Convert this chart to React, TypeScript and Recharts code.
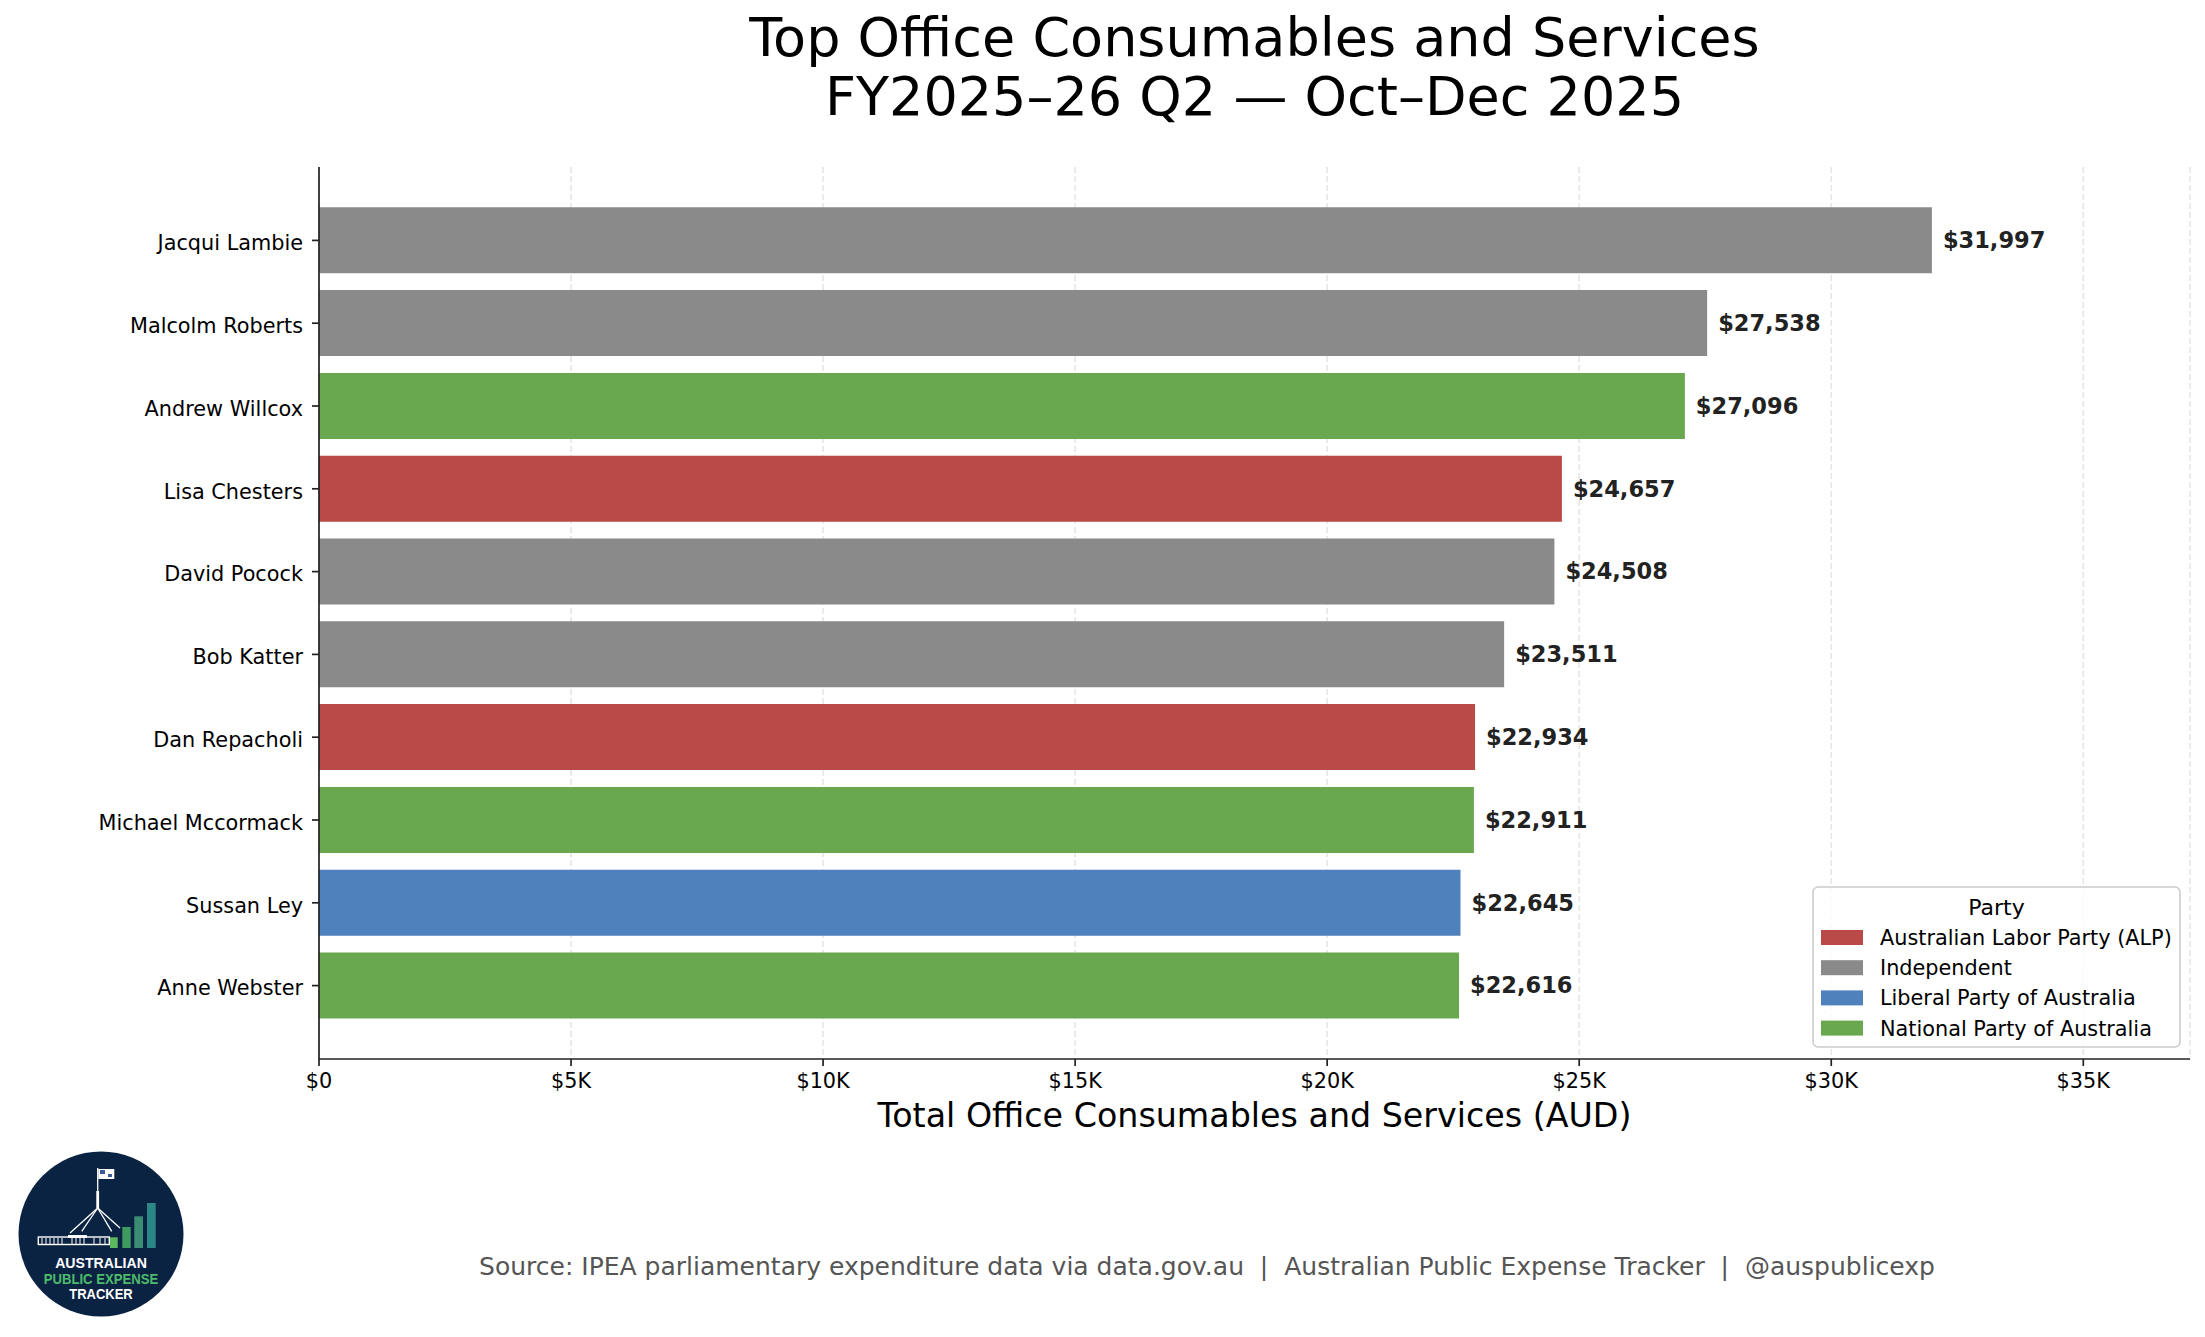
import React from "react";
import { BarChart, Bar, XAxis, YAxis, CartesianGrid, Cell, LabelList } from "recharts";

const names = [
  "Jacqui Lambie",
  "Malcolm Roberts",
  "Andrew Willcox",
  "Lisa Chesters",
  "David Pocock",
  "Bob Katter",
  "Dan Repacholi",
  "Michael Mccormack",
  "Sussan Ley",
  "Anne Webster",
];
const values = [31997, 27538, 27096, 24657, 24508, 23511, 22934, 22911, 22645, 22616];
const memberParties = [
  "Independent",
  "Independent",
  "National Party of Australia",
  "Australian Labor Party (ALP)",
  "Independent",
  "Independent",
  "Australian Labor Party (ALP)",
  "National Party of Australia",
  "Liberal Party of Australia",
  "National Party of Australia",
];
const legendParties = [
  "Australian Labor Party (ALP)",
  "Independent",
  "Liberal Party of Australia",
  "National Party of Australia",
];
const partyColors = ["#b94a48", "#8a8a8a", "#4f81bd", "#6aa84f"];
const xTicks = [0, 5000, 10000, 15000, 20000, 25000, 30000, 35000];
const xMax = 37117;

const titleLines = ["Top Office Consumables and Services", "FY2025\u201326 Q2 \u2014 Oct\u2013Dec 2025"];
const xLabel = "Total Office Consumables and Services (AUD)";
const sourceText =
  "Source: IPEA parliamentary expenditure data via data.gov.au  |  Australian Public Expense Tracker  |  @auspublicexp";

const data = names.map((n, i) => ({ name: n, value: values[i], party: memberParties[i] }));
const colorOf = (p: string) => partyColors[legendParties.indexOf(p)];

const FONT = "DejaVu Sans";

const fmtTick = (v: number) => (v === 0 ? "$0" : `$${v / 1000}K`);
const fmtVal = (v: number) => "$" + v.toLocaleString("en-US");

const ValueLabel = (props: any) => {
  const { x, y, width, height, value } = props;
  return (
    <text
      x={Number(x) + Number(width) + 11}
      y={Number(y) + Number(height) / 2}
      dy="0.35em"
      fontFamily={FONT}
      fontWeight="bold"
      fontSize={22.5}
      fill="#222222"
      textAnchor="start"
    >
      {fmtVal(Number(value))}
    </text>
  );
};

const YTick = (props: any) => {
  const { x, y, payload } = props;
  return (
    <text
      x={Number(x) - 2}
      y={Number(y) + 9.7}
      textAnchor="end"
      fontFamily={FONT}
      fontSize={20.8}
      fill="#000000"
    >
      {payload.value}
    </text>
  );
};

const Logo = () => {
  const cx = 101;
  const cy = 1234;
  const w = "#ffffff";
  return (
    <g transform={`translate(${cx},${cy})`}>
      <circle r={82.5} fill="#0b2343" />
      {/* flag */}
      <rect x={-2.7} y={-65} width={16} height={10} fill={w} />
      <rect x={-1} y={-64} width={5} height={4} fill="#3a5a9a" />
      <rect x={7} y={-60} width={4} height={3} fill="#3a5a9a" />
      <line x1={-3.3} y1={-66} x2={-3.3} y2={-43} stroke={w} strokeWidth={1.3} />
      <rect x={-4.7} y={-43} width={2.8} height={17} fill={w} />
      {/* legs */}
      <line x1={-3.3} y1={-26} x2={-31} y2={-1} stroke={w} strokeWidth={1.3} />
      <line x1={-3.3} y1={-26} x2={-19.3} y2={-2.7} stroke={w} strokeWidth={1.3} />
      <line x1={-3.3} y1={-26} x2={10.7} y2={-2.7} stroke={w} strokeWidth={1.3} />
      <line x1={-3.3} y1={-26} x2={19} y2={-6} stroke={w} strokeWidth={1.3} />
      {/* building */}
      <rect x={-62.7} y={3} width={71} height={7.5} fill="none" stroke={w} strokeWidth={1.4} />
      <rect x={-33} y={1} width={19} height={3} fill={w} />
      {[-59, -55, -51, -47, -43, -39, -29, -25, -21, -17, -7, -1, 4].map((wx, i) => (
        <line key={i} x1={wx} y1={4} x2={wx} y2={10} stroke={w} strokeWidth={1} />
      ))}
      {/* bars */}
      <rect x={9} y={3.3} width={7.7} height={10.7} fill="#5cb85c" />
      <rect x={21.3} y={-7} width={8.4} height={21} fill="#3f9a5f" />
      <rect x={33.3} y={-17.7} width={8.7} height={31.7} fill="#3a8c72" />
      <rect x={46} y={-31} width={8.7} height={45} fill="#2b8686" />
      {/* text */}
      <text x={0} y={34} textAnchor="middle" fontFamily="Liberation Sans" fontWeight="bold" fontSize={15} fill={w} textLength={91.7} lengthAdjust="spacingAndGlyphs">
        AUSTRALIAN
      </text>
      <text x={0} y={49.7} textAnchor="middle" fontFamily="Liberation Sans" fontWeight="bold" fontSize={15} fill="#4cbb6b" textLength={114.7} lengthAdjust="spacingAndGlyphs">
        PUBLIC EXPENSE
      </text>
      <text x={0} y={65} textAnchor="middle" fontFamily="Liberation Sans" fontWeight="bold" fontSize={15} fill={w} textLength={63.3} lengthAdjust="spacingAndGlyphs">
        TRACKER
      </text>
    </g>
  );
};

const Legend = () => {
  const bx = 1813;
  const by = 887;
  const bw = 367;
  const bh = 160;
  return (
    <g>
      <rect x={bx} y={by} width={bw} height={bh} rx={5} ry={5} fill="#ffffff" fillOpacity={0.8} stroke="#cccccc" strokeWidth={1.6} />
      <text x={bx + bw / 2} y={915} textAnchor="middle" fontFamily={FONT} fontSize={22} fill="#000000">
        Party
      </text>
      {legendParties.map((p, i) => (
        <g key={p}>
          <rect x={1821} y={930 + i * 30.2} width={42} height={15} fill={partyColors[i]} />
          <text x={1880} y={945 + i * 30.2} fontFamily={FONT} fontSize={20.8} fill="#000000">
            {p}
          </text>
        </g>
      ))}
    </g>
  );
};

export default function App() {
  return (
    <div
      style={{
        position: "absolute",
        left: 0,
        top: 0,
        width: 2205,
        height: 1337,
        background: "#ffffff",
        fontFamily: FONT,
      }}
    >
      <BarChart
        width={2205}
        height={1337}
        data={data}
        layout="vertical"
        margin={{ top: 167, right: 15, bottom: 218, left: 0 }}
        barCategoryGap="10%"
      >
        <XAxis
          type="number"
          domain={[0, xMax]}
          ticks={xTicks}
          allowDataOverflow
          tickFormatter={fmtTick}
          height={60}
          tickSize={7}
          tickMargin={7}
          axisLine={{ stroke: "#222222", strokeWidth: 1.7 }}
          tickLine={{ stroke: "#222222", strokeWidth: 1.7 }}
          tick={{ fontSize: 20.8, fill: "#000000", fontFamily: FONT }}
        />
        <YAxis
          type="category"
          dataKey="name"
          width={319}
          interval={0}
          padding={{ top: 32, bottom: 32 }}
          tickSize={7}
          tickMargin={7}
          axisLine={{ stroke: "#222222", strokeWidth: 1.7 }}
          tickLine={{ stroke: "#222222", strokeWidth: 1.7 }}
          tick={<YTick />}
        />
        <Bar dataKey="value" isAnimationActive={false}>
          {data.map((d, i) => (
            <Cell key={i} fill={colorOf(d.party)} />
          ))}
          <LabelList dataKey="value" content={ValueLabel} />
        </Bar>
        <CartesianGrid horizontal={false} strokeDasharray="6 3" stroke="#c8c8c8" strokeOpacity={0.45} strokeWidth={1.6} />
      </BarChart>
      <svg
        width={2205}
        height={1337}
        style={{ position: "absolute", left: 0, top: 0, pointerEvents: "none" }}
      >
        <text x={1254.5} y={56} textAnchor="middle" fontFamily={FONT} fontSize={54} fill="#000000">
          {titleLines[0]}
        </text>
        <text x={1254.5} y={115} textAnchor="middle" fontFamily={FONT} fontSize={54} fill="#000000">
          {titleLines[1]}
        </text>
        <text x={1254.5} y={1127} textAnchor="middle" fontFamily={FONT} fontSize={33.3} fill="#000000">
          {xLabel}
        </text>
        <text x={1207} y={1275} textAnchor="middle" fontFamily={FONT} fontSize={25} fill="#555555" style={{ whiteSpace: "pre" }}>
          {sourceText}
        </text>
        <Legend />
        <Logo />
      </svg>
    </div>
  );
}
